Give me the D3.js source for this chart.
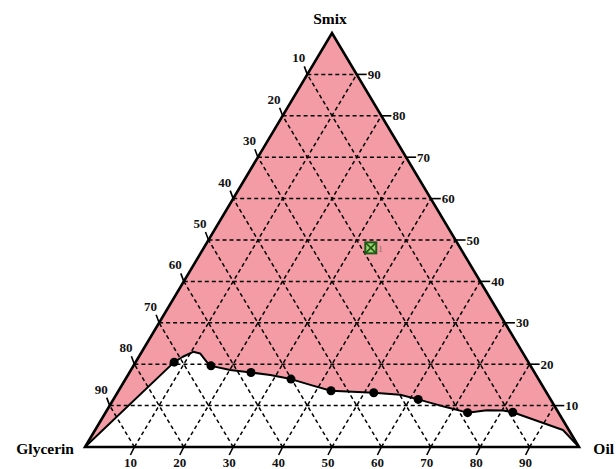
<!DOCTYPE html>
<html>
<head>
<meta charset="utf-8">
<script src="https://cdn.jsdelivr.net/npm/d3@7"></script>
<style>
  html, body { margin: 0; padding: 0; background: #ffffff; overflow: hidden; }
  svg { display: block; }
</style>
</head>
<body>
<svg id="chart" width="616" height="469"></svg>
<script>
// ---- Data (ternary coordinates in %: Oil, Smix; Glycerin = 100 - Oil - Smix) ----
const axisNames = ["Smix", "Glycerin", "Oil"];
const tickValues = [10, 20, 30, 40, 50, 60, 70, 80, 90];

// Measured points on the phase boundary (black dots)
const dotOil  = [7.8, 15.7, 24.6, 33.5, 43.0, 51.9, 61.7, 73.3, 82.4];
const dotSmix = [20.5, 19.6, 18.0, 16.4, 13.6, 13.1, 11.5, 8.3, 8.4];

// Boundary curve (includes the dots)
const curveOil  = [0, 7.8, 8.9, 10.4, 12.0, 14.3, 15.7, 20.1, 24.6, 28.8, 33.5, 38.1, 43.0, 51.9, 57.5, 61.7, 68.0, 73.3, 76.9, 80.2, 82.4, 94.7, 100];
const curveSmix = [0, 20.5, 21.8, 23.0, 22.6, 20.6, 19.6, 18.6, 18.0, 17.4, 16.4, 15.0, 13.6, 13.1, 12.6, 11.5, 9.7, 8.3, 8.9, 8.8, 8.4, 4.1, 0];

// Formulation marker
const markerOil = [33.8];
const markerSmix = [48.1];
const markerLabel = ["1"];

// ---- Scales ----
const xScale = d3.scaleLinear().domain([0, 100]).range([85, 579]);   // horizontal fraction = Oil + Smix/2
const yScale = d3.scaleLinear().domain([0, 100]).range([447, 33]);   // Smix
const P = (oil, smix) => [xScale(oil + smix / 2), yScale(smix)];

const svg = d3.select("#chart");
const serif = "'Liberation Serif', 'Times New Roman', serif";

// ---- Pink region (above boundary) ----
const curvePts = curveOil.map((o, i) => P(o, curveSmix[i]));
const region = curvePts.slice();
region.push(P(0, 100));
svg.append("path")
  .attr("d", d3.line()(region) + "Z")
  .attr("fill", "#f39ca6");

// ---- Dashed grid ----
const grid = svg.append("g")
  .attr("stroke", "#000").attr("stroke-width", 1.5)
  .attr("stroke-dasharray", "4,3").attr("fill", "none");
const line = d3.line();
tickValues.forEach(v => {
  grid.append("path").attr("d", line([P(0, v), P(100 - v, v)]));          // constant Smix
  grid.append("path").attr("d", line([P(v, 0), P(v, 100 - v)]));          // constant Oil
  grid.append("path").attr("d", line([P(100 - v, 0), P(0, 100 - v)]));    // constant Glycerin
});

// ---- Triangle border ----
svg.append("path")
  .attr("d", line([P(0, 0), P(100, 0), P(0, 100)]) + "Z")
  .attr("fill", "none").attr("stroke", "#000").attr("stroke-width", 2.6)
  .attr("stroke-linejoin", "miter");

// ---- Boundary curve ----
svg.append("path")
  .attr("d", d3.line()(curvePts))
  .attr("fill", "none").attr("stroke", "#000").attr("stroke-width", 2)
  .attr("stroke-linejoin", "round");

svg.append("g").selectAll("circle")
  .data(dotOil.map((o, i) => P(o, dotSmix[i])))
  .join("circle")
  .attr("cx", d => d[0]).attr("cy", d => d[1]).attr("r", 4.5).attr("fill", "#000");

// ---- Ticks and labels ----
const ticks = svg.append("g").attr("stroke", "#000").attr("stroke-width", 1.6);
const labels = svg.append("g")
  .attr("font-family", serif).attr("font-size", 13).attr("font-weight", "bold").attr("fill", "#111");

tickValues.forEach(v => {
  // Bottom axis: Oil
  const b = P(v, 0);
  ticks.append("line").attr("x1", b[0]).attr("y1", b[1]).attr("x2", b[0] - 4).attr("y2", b[1] + 8);
  labels.append("text").attr("x", b[0] - 4).attr("y", b[1] + 20).attr("text-anchor", "middle").text(v);
  // Left axis: Glycerin (0 at apex)
  const l = P(0, 100 - v);
  ticks.append("line").attr("x1", l[0]).attr("y1", l[1]).attr("x2", l[0] - 3).attr("y2", l[1] - 8);
  labels.append("text").attr("x", l[0] - 2).attr("y", l[1] - 12).attr("text-anchor", "end").text(v);
  // Right axis: Smix
  const r = P(100 - v, v);
  ticks.append("line").attr("x1", r[0]).attr("y1", r[1]).attr("x2", r[0] + 10).attr("y2", r[1]);
  labels.append("text").attr("x", r[0] + 11).attr("y", r[1] + 4.5).attr("text-anchor", "start").text(v);
});

// ---- Corner names ----
const names = svg.append("g")
  .attr("font-family", serif).attr("font-size", 15.5).attr("font-weight", "bold").attr("fill", "#000");
const apex = P(0, 100), left = P(0, 0), right = P(100, 0);
names.append("text").attr("x", apex[0] - 2).attr("y", apex[1] - 9).attr("text-anchor", "middle").text(axisNames[0]);
names.append("text").attr("x", left[0] - 11).attr("y", left[1] + 7).attr("text-anchor", "end").text(axisNames[1]);
names.append("text").attr("x", 614).attr("y", right[1] + 7).attr("text-anchor", "end").text(axisNames[2]);

// ---- Marker ----
markerOil.forEach((o, i) => {
  const m = P(o, markerSmix[i]);
  const s = 5.5;
  const g = svg.append("g");
  g.append("rect").attr("x", m[0] - s).attr("y", m[1] - s).attr("width", 2 * s).attr("height", 2 * s)
    .attr("fill", "#9fd36f").attr("stroke", "#1f5a16").attr("stroke-width", 2);
  g.append("path").attr("d", `M${m[0]-s},${m[1]-s}L${m[0]+s},${m[1]+s}M${m[0]+s},${m[1]-s}L${m[0]-s},${m[1]+s}`)
    .attr("stroke", "#1f5a16").attr("stroke-width", 1.6);
  svg.append("text").attr("x", m[0] + s + 2).attr("y", m[1] + 4)
    .attr("font-family", serif).attr("font-size", 9).attr("fill", "#8a6a5a").text(markerLabel[i]);
});
</script>
</body>
</html>
